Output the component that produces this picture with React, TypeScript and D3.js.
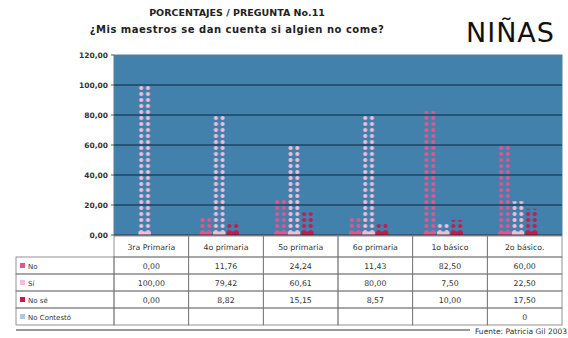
import React from "react";
import * as d3 from "d3";

// Grades (columns) and the share of answers per option, in %
const categories = ["3ra Primaria", "4o primaria", "5o primaria", "6o primaria", "1o básico", "2o básico."];
const noValues = [0, 11.76, 24.24, 11.43, 82.5, 60];
const siValues = [100, 79.42, 60.61, 80, 7.5, 22.5];
const noSeValues = [0, 8.82, 15.15, 8.57, 10, 17.5];
const noContestoValues: (number | null)[] = [null, null, null, null, null, 0];
const seriesNames = ["No", "Sí", "No sé", "No Contestó"];
const yTicks = [0, 20, 40, 60, 80, 100, 120];

const seriesColors = ["#e2568f", "#f3bcd8", "#c51a4e", "#a9c8e2"];
const seriesValues = [noValues, siValues, noSeValues, noContestoValues];

const W = 568;
const H = 338;
const plot = { left: 114, right: 562, top: 55, bottom: 235 };
const FONT = "'DejaVu Sans', sans-serif";

const fmt = (v: number | null, raw = false) =>
  v === null ? "" : raw ? String(v) : d3.format(".2f")(v).replace(".", ",");

export default function App() {
  const x = d3.scaleBand<string>().domain(categories).range([plot.left, plot.right]).paddingInner(0).paddingOuter(0);
  const xs = d3
    .scaleBand<string>()
    .domain(seriesNames)
    .range([0, x.step()])
    .paddingInner(0)
    .paddingOuter(0.78);
  const y = d3.scaleLinear().domain([0, 120]).range([plot.bottom, plot.top]);
  const bw = xs.bandwidth();
  const y0 = y(0);

  const bars: { key: string; s: number; x: number; top: number; color: string }[] = [];
  seriesValues.forEach((vals, s) => {
    vals.forEach((v, c) => {
      if (v === null || v <= 0) return;
      bars.push({
        key: `b-${s}-${c}`,
        s,
        x: (x(categories[c]) as number) + (xs(seriesNames[s]) as number),
        top: y(v),
        color: seriesColors[s],
      });
    });
  });

  // Table layout
  const tableTop = 236;
  const headerH = 21;
  const rowH = 17;
  const tableLeft = 16;
  const bodyTop = tableTop + headerH;

  return (
    <svg width={W} height={H} style={{ position: "absolute", left: 0, top: 0 }} fontFamily={FONT}>
      <rect width={W} height={H} fill="#ffffff" />
      <defs>
        {bars.map((b) => (
          <pattern
            key={`p-${b.key}`}
            id={`p-${b.key}`}
            patternUnits="userSpaceOnUse"
            x={b.x}
            y={y0}
            width={bw / 2}
            height={6}
          >
            <circle cx={bw / 4} cy={3} r={2.1} fill={b.color} />
          </pattern>
        ))}
      </defs>

      {/* Titles */}
      <text x={237} y={16} textAnchor="middle" fontSize={9.5} fontWeight="bold" fill="#222">
        PORCENTAJES / PREGUNTA No.11
      </text>
      <text x={237} y={33} textAnchor="middle" fontSize={10} fontWeight="bold" letterSpacing={0.5} fill="#222">
        ¿Mis maestros se dan cuenta si algien no come?
      </text>
      <text x={466} y={42} fontSize={27} letterSpacing={1} fill="#111">
        NIÑAS
      </text>

      {/* Plot background */}
      <rect
        x={plot.left}
        y={plot.top}
        width={plot.right - plot.left}
        height={plot.bottom - plot.top}
        fill="#4181ab"
        stroke="#5d7f96"
        strokeWidth={1}
      />

      {/* Gridlines and y labels */}
      {yTicks.map((t) => (
        <g key={`t-${t}`}>
          {t > 0 && t < 120 && (
            <line x1={plot.left} x2={plot.right} y1={y(t)} y2={y(t)} stroke="#1d4664" strokeWidth={1.6} />
          )}
          <line x1={plot.left - 3} x2={plot.left} y1={y(t)} y2={y(t)} stroke="#555" strokeWidth={1} />
          <text x={108} y={y(t) + 3} textAnchor="end" fontSize={7.5} fontWeight="bold" fill="#333">
            {fmt(t)}
          </text>
        </g>
      ))}

      {/* Bars */}
      {bars.map((b) => (
        <g key={b.key}>
          <rect x={b.x} y={b.top} width={bw} height={y0 - b.top} fill={`url(#p-${b.key})`} />
          <rect x={b.x + 0.5} y={y0 - 3.5} width={bw - 1} height={3.5} fill={b.color} />
        </g>
      ))}

      {/* X axis */}
      <line x1={plot.left} x2={plot.right} y1={y0} y2={y0} stroke="#333" strokeWidth={1} />

      {/* Data table: header */}
      {categories.map((c) => (
        <g key={`h-${c}`}>
          <rect
            x={x(c) as number}
            y={tableTop}
            width={x.step()}
            height={headerH}
            fill="none"
            stroke="#777"
            strokeWidth={0.8}
          />
          <text
            x={(x(c) as number) + x.step() / 2}
            y={tableTop + headerH / 2 + 3}
            textAnchor="middle"
            fontSize={7.8}
            fill="#333"
          >
            {c}
          </text>
        </g>
      ))}

      {/* Data table: rows */}
      {seriesNames.map((name, s) => {
        const ry = bodyTop + s * rowH;
        return (
          <g key={`r-${name}`}>
            <rect
              x={tableLeft}
              y={ry}
              width={plot.left - tableLeft}
              height={rowH}
              fill="none"
              stroke="#777"
              strokeWidth={0.8}
            />
            <rect x={tableLeft + 4} y={ry + rowH / 2 - 2.5} width={5} height={5} fill={seriesColors[s]} />
            <text x={tableLeft + 12} y={ry + rowH / 2 + 3} fontSize={7} fill="#333">
              {name}
            </text>
            {categories.map((c, ci) => (
              <g key={`cell-${s}-${ci}`}>
                <rect
                  x={x(c) as number}
                  y={ry}
                  width={x.step()}
                  height={rowH}
                  fill="none"
                  stroke="#777"
                  strokeWidth={0.8}
                />
                <text
                  x={(x(c) as number) + x.step() / 2}
                  y={ry + rowH / 2 + 3}
                  textAnchor="middle"
                  fontSize={7.8}
                  fill="#333"
                >
                  {fmt(seriesValues[s][ci], s === 3)}
                </text>
              </g>
            ))}
          </g>
        );
      })}

      {/* Footer */}
      <line x1={16} x2={470} y1={330} y2={330} stroke="#999" strokeWidth={2} />
      <text x={567} y={334} textAnchor="end" fontSize={7.5} fill="#333">
        Fuente: Patricia Gil 2003
      </text>
    </svg>
  );
}
